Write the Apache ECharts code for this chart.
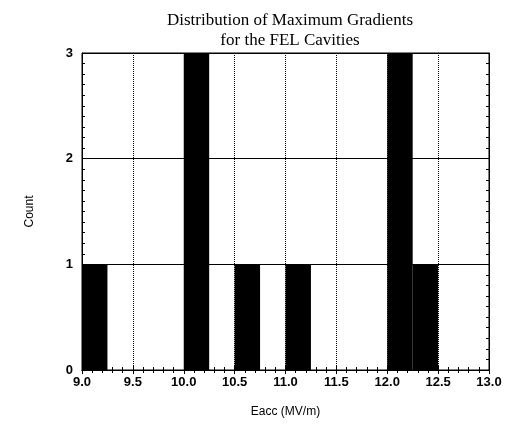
<!DOCTYPE html>
<html>
<head>
<meta charset="utf-8">
<script src="https://cdn.jsdelivr.net/npm/echarts@6/dist/echarts.min.js"></script>
<style>html,body{margin:0;padding:0;background:#fff;}#c{width:507px;height:430px;}</style>
</head>
<body>
<div id="c"></div>
<script>
var binStart = [9.0, 10.0, 10.5, 11.0, 12.0, 12.25];
var binWidth = 0.25;
var counts = [1, 3, 1, 1, 3, 1];
var xMin = 9.0, xMax = 13.0, xStep = 0.5;
var yMin = 0, yMax = 3, yStep = 1;

var data = binStart.map(function (s, i) { return [s, s + binWidth, counts[i]]; });

var chart = echarts.init(document.getElementById('c'));
var lab = { fontFamily: 'Liberation Sans', fontWeight: 'bold', fontSize: 13, color: '#000' };
var tick = { show: true, inside: true, length: 4, lineStyle: { color: '#000' } };
chart.setOption({
  animation: false,
  backgroundColor: '#fff',
  title: {
    text: 'Distribution of Maximum Gradients\nfor the FEL Cavities',
    left: 285, top: 6, textAlign: 'center',
    textStyle: { fontFamily: 'Liberation Serif', fontSize: 17, fontWeight: 'normal', color: '#000', lineHeight: 20 }
  },
  grid: { left: 82, right: 18, top: 53, bottom: 60, show: true, borderColor: '#000', borderWidth: 1 },
  xAxis: [{
    type: 'value', min: xMin, max: xMax, interval: xStep,
    name: 'Eacc (MV/m)', nameLocation: 'middle', nameGap: 36,
    nameTextStyle: { fontFamily: 'Liberation Sans', fontSize: 12, color: '#000' },
    axisLine: { show: true, lineStyle: { color: '#000' } },
    axisTick: tick,
    minorTick: { show: true, splitNumber: 5, length: 3, lineStyle: { color: '#000' } },
    axisLabel: Object.assign({ margin: 6, formatter: function (v) { return v.toFixed(1); } }, lab),
    splitLine: { show: true, lineStyle: { color: '#000', type: 'dotted', width: 1 } }
  }, {
    type: 'value', position: 'top', min: xMin, max: xMax, interval: xStep,
    axisLine: { show: true, lineStyle: { color: '#000' } },
    axisTick: tick, axisLabel: { show: false }, splitLine: { show: false },
    minorTick: { show: true, splitNumber: 5, length: 3, lineStyle: { color: '#000' } }
  }],
  yAxis: [{
    type: 'value', min: yMin, max: yMax, interval: yStep,
    name: 'Count', nameLocation: 'middle', nameGap: 46, nameRotate: 90,
    nameTextStyle: { fontFamily: 'Liberation Sans', fontSize: 12, color: '#000' },
    axisLine: { show: true, lineStyle: { color: '#000' } },
    axisTick: tick,
    minorTick: { show: true, splitNumber: 10, length: 3, lineStyle: { color: '#000' } },
    axisLabel: Object.assign({ margin: 9 }, lab),
    splitLine: { show: true, lineStyle: { color: '#000', type: 'solid', width: 1 } }
  }, {
    type: 'value', position: 'right', min: yMin, max: yMax, interval: yStep,
    axisLine: { show: true, lineStyle: { color: '#000' } },
    axisTick: tick, axisLabel: { show: false }, splitLine: { show: false },
    minorTick: { show: true, splitNumber: 10, length: 3, lineStyle: { color: '#000' } }
  }],
  series: [{
    type: 'custom',
    xAxisIndex: 0, yAxisIndex: 0,
    encode: { x: [0, 1], y: 2 },
    data: data,
    z: 5,
    renderItem: function (params, api) {
      var p0 = api.coord([api.value(0), api.value(2)]);
      var p1 = api.coord([api.value(1), 0]);
      return { type: 'rect', shape: { x: p0[0], y: p0[1], width: p1[0] - p0[0], height: p1[1] - p0[1] }, style: { fill: '#000' } };
    }
  }]
});
</script>
</body>
</html>
